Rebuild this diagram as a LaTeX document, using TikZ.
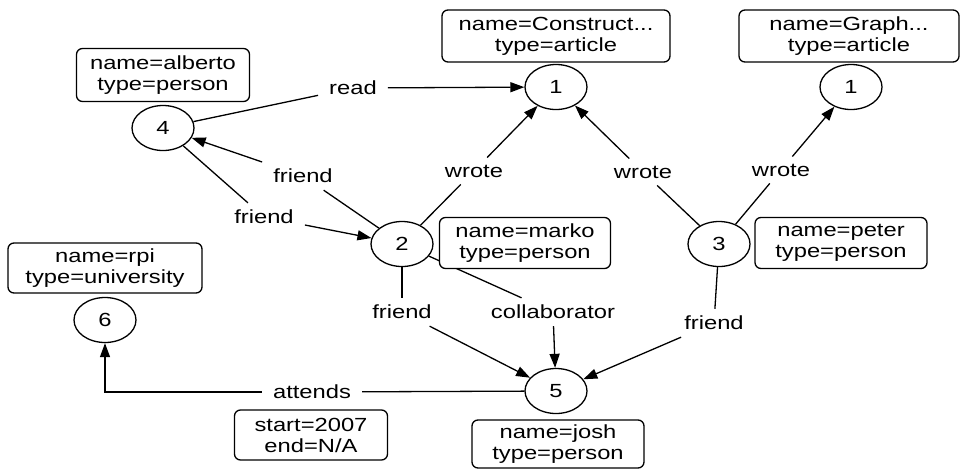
\documentclass[tikz,border=0pt]{standalone}
\usepackage{fontspec}
\setmainfont[FakeStretch=1.25]{Liberation Sans}
\usetikzlibrary{arrows.meta,shapes.geometric}
\begin{document}
\begin{tikzpicture}[x=1pt,y=-1pt,
  every node/.style={font=\fontsize{19}{21}\selectfont},
  vert/.style={ellipse,draw,line width=1.3pt,minimum width=62pt,minimum height=45pt,inner sep=0pt},
  prop/.style={draw,fill=white,rounded corners=6pt,line width=1.3pt,align=center,inner sep=0pt},
  lbl/.style={inner xsep=11pt,inner ysep=7pt},
  edge/.style={line width=1.3pt},
  arr/.style={edge,-{Triangle[length=14pt,width=10pt]}}]
\useasboundingbox[fill=white] (0,0) rectangle (960,471);
% vertices
\node[vert] (a1) at (556,87) {1};
\node[vert] (b1) at (851,87) {1};
\node[vert] (v4) at (163,128) {4};
\node[vert] (v2) at (402,244) {2};
\node[vert] (v3) at (719,244) {3};
\node[vert] (v6) at (105,320) {6};
\node[vert] (v5) at (556,391) {5};
% edge labels
\node[lbl] (read) at (353,88) {read};
\node[lbl] (friendA) at (303,176) {friend};
\node[lbl] (friendB) at (264,217) {friend};
\node[lbl] (wroteL) at (474,171) {wrote};
\node[lbl] (wroteM) at (643,172) {wrote};
\node[lbl] (wroteR) at (781,170) {wrote};
\node[lbl] (friendC) at (402,312) {friend};
\node[lbl] (collab) at (553,312) {collaborator};
\node[lbl] (friendD) at (714,323) {friend};
\node[lbl] (att) at (312,392) {attends};
% edges
\draw[edge] (v4) -- (read);   \draw[arr] (read) -- (a1);
\draw[edge] (v2) -- (friendA); \draw[arr] (friendA) -- (v4);
\draw[edge] (v4) -- (friendB); \draw[arr] (friendB) -- (v2);
\draw[edge] (v2) -- (wroteL); \draw[arr] (wroteL) -- (a1);
\draw[edge] (v3) -- (wroteM); \draw[arr] (wroteM) -- (a1);
\draw[edge] (v3) -- (wroteR); \draw[arr] (wroteR) -- (b1);
\draw[edge] (v2) -- (friendC); \draw[arr] (friendC) -- (v5);
\draw[edge] (v2) -- (collab); \draw[arr] (collab) -- (v5);
\draw[edge] (v3) -- (friendD); \draw[arr] (friendD) -- (v5);
\draw[edge] (v5) -- (att); \draw[arr] (att) -| (v6);
% property boxes
\node[prop,minimum width=228pt,minimum height=52pt] (pConstruct) at (556,36) {name=Construct...\\type=article};
\node[prop,minimum width=220pt,minimum height=52pt] (pGraph) at (849,36) {name=Graph...\\type=article};
\node[prop,minimum width=173pt,minimum height=53pt] (pAlberto) at (163,75) {name=alberto\\type=person};
\node[prop,minimum width=171pt,minimum height=51pt] (pMarko) at (525,243) {name=marko\\type=person};
\node[prop,minimum width=172pt,minimum height=51pt] (pPeter) at (841,243) {name=peter\\type=person};
\node[prop,minimum width=194pt,minimum height=50pt] (pRpi) at (105,268) {name=rpi\\type=university};
\node[prop,minimum width=153pt,minimum height=50pt] (pStart) at (311,435) {start=2007\\end=N/A};
\node[prop,minimum width=172pt,minimum height=48pt] (pJosh) at (558,444) {name=josh\\type=person};
\end{tikzpicture}
\end{document}
